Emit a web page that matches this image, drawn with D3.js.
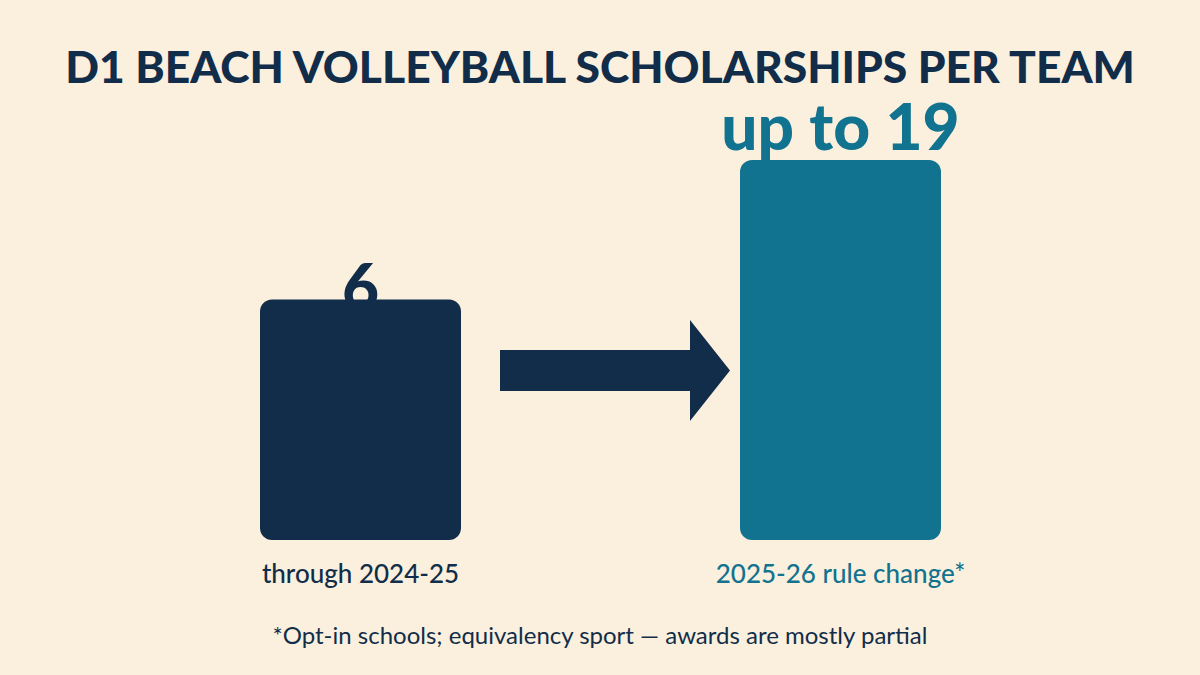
<!DOCTYPE html>
<html>
<head>
<meta charset="utf-8">
<script src="https://cdn.jsdelivr.net/npm/d3@7"></script>
<style>
  html, body { margin: 0; padding: 0; background: #FBF0DD; }
  svg { display: block; font-family: Lato, "Noto Sans", sans-serif; }
</style>
</head>
<body>
<script>
// data
const categories = ["through 2024-25", "2025-26 rule change*"];
const values = [6, 19];
const valueLabels = ["6", "up to 19"];
const colors = ["#112D4A", "#11738F"];

const title = "D1 BEACH VOLLEYBALL SCHOLARSHIPS PER TEAM";
const footnote = "*Opt-in schools; equivalency sport \u2014 awards are mostly partial";

const width = 1200, height = 675;

const svg = d3.select("body").append("svg")
    .attr("width", width)
    .attr("height", height);

svg.append("rect")
    .attr("width", width)
    .attr("height", height)
    .attr("fill", "#FBF0DD");

// scales
var xScale = d3.scalePoint()
    .domain(categories)
    .range([360.5, 840.5]);

var barWidth = 201;

var yScale = d3.scaleLinear()
    .domain([-16.4, 19])
    .range([540, 160]);

// value label baseline (small bar label tucks behind the bar top)
var labelY = d3.scaleLinear()
    .domain([6, 19])
    .range([310, 150]);

svg.append("text")
    .attr("x", width / 2)
    .attr("y", 83)
    .attr("text-anchor", "middle")
    .attr("fill", "#112D4A")
    .style("font-size", "44.4px")
    .style("font-weight", 900)
    .text(title);

// value labels first so the bars sit on top
svg.selectAll(".val")
    .data(values)
    .enter().append("text")
    .attr("class", "val")
    .attr("x", function(d, i) { return xScale(categories[i]); })
    .attr("y", function(d) { return labelY(d); })
    .attr("text-anchor", "middle")
    .attr("fill", function(d, i) { return colors[i]; })
    .style("font-size", "64px")
    .style("font-weight", 900)
    .text(function(d, i) { return valueLabels[i]; });

svg.selectAll(".bar")
    .data(values)
    .enter().append("rect")
    .attr("class", "bar")
    .attr("x", function(d, i) { return xScale(categories[i]) - barWidth / 2; })
    .attr("y", function(d) { return yScale(d); })
    .attr("width", barWidth)
    .attr("height", function(d) { return yScale.range()[0] - yScale(d); })
    .attr("rx", 12)
    .attr("fill", function(d, i) { return colors[i]; });

// arrow between the bars
var ax0 = xScale(categories[0]) + barWidth / 2 + 39,
    ax1 = xScale(categories[1]) - barWidth / 2 - 10,
    ay = 370.5;
var arrow = d3.path();
arrow.moveTo(ax0, ay - 20.5);
arrow.lineTo(ax1 - 40, ay - 20.5);
arrow.lineTo(ax1 - 40, ay - 50.5);
arrow.lineTo(ax1, ay);
arrow.lineTo(ax1 - 40, ay + 50.5);
arrow.lineTo(ax1 - 40, ay + 20.5);
arrow.lineTo(ax0, ay + 20.5);
arrow.closePath();
svg.append("path")
    .attr("d", arrow.toString())
    .attr("fill", "#112D4A");

svg.selectAll(".cat")
    .data(categories)
    .enter().append("text")
    .attr("class", "cat")
    .attr("x", function(d) { return xScale(d); })
    .attr("y", 583)
    .attr("text-anchor", "middle")
    .attr("fill", function(d, i) { return colors[i]; })
    .style("font-size", "26px")
    .style("font-weight", 500)
    .text(function(d) { return d; });

svg.append("text")
    .attr("x", width / 2)
    .attr("y", 644)
    .attr("text-anchor", "middle")
    .attr("fill", "#112D4A")
    .style("font-size", "24px")
    .style("font-weight", 400)
    .text(footnote);
</script>
</body>
</html>
